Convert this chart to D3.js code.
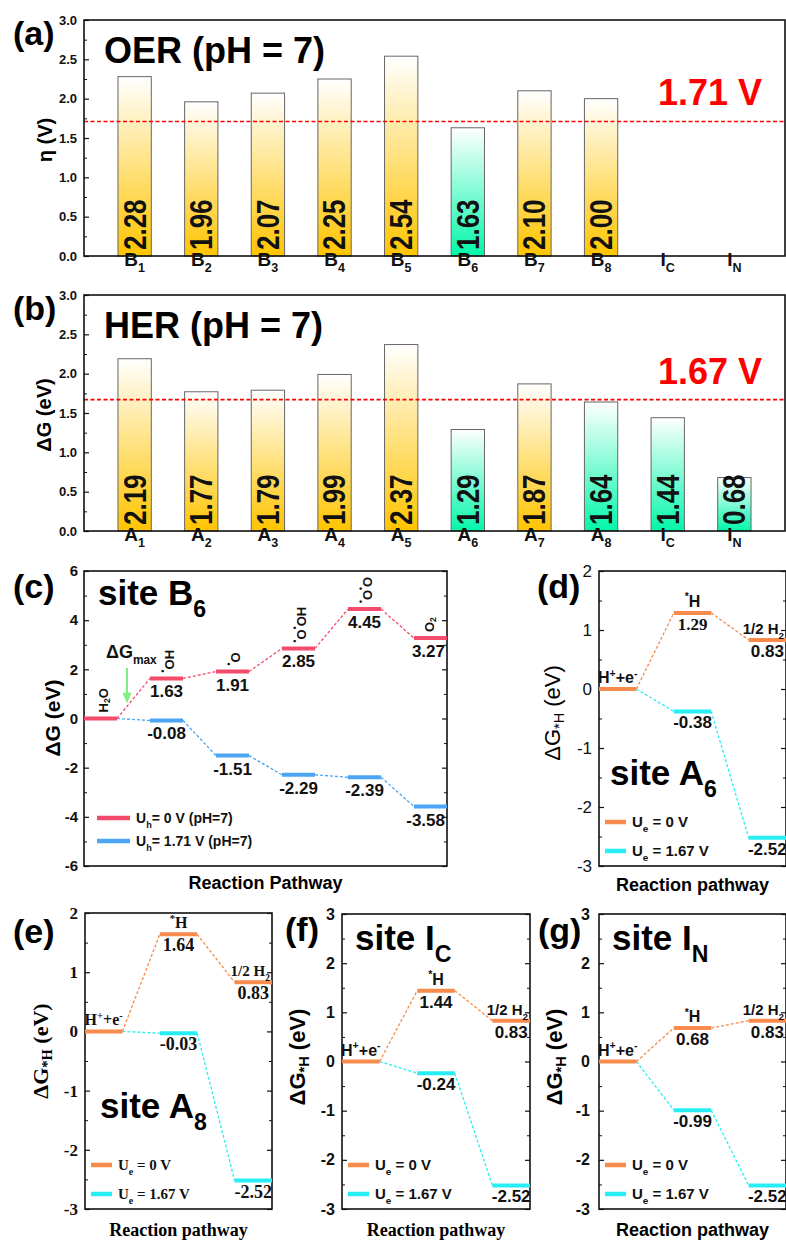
<!DOCTYPE html>
<html>
<head>
<meta charset="utf-8">
<script src="https://cdn.jsdelivr.net/npm/d3@7"></script>
<style>
  body { margin: 0; background: #fff; }
  svg { display: block; }
</style>
</head>
<body>
<div id="chart"></div>
<script>
// ---- data ----
const oerSites = ["B1", "B2", "B3", "B4", "B5", "B6", "B7", "B8", "IC", "IN"];
const oerEta = [2.28, 1.96, 2.07, 2.25, 2.54, 1.63, 2.10, 2.00, null, null];
const oerLimit = 1.71;
const herSites = ["A1", "A2", "A3", "A4", "A5", "A6", "A7", "A8", "IC", "IN"];
const herDG = [2.19, 1.77, 1.79, 1.99, 2.37, 1.29, 1.87, 1.64, 1.44, 0.68];
const herLimit = 1.67;
const barTicks = [0, 0.5, 1, 1.5, 2, 2.5, 3];

const b6Steps = [
  [["H"], ["2", "sub"], ["O"]],
  [["•", "sup"], ["OH"]],
  [["•", "sup"], ["O"]],
  [["•", "sup"], ["O"], ["•", "sup"], ["OH"]],
  [["•", "sup"], ["O"], ["•", "sup"], ["O"]],
  [["O"], ["2", "sub"]]
];
const b6G0 = [0, 1.63, 1.91, 2.85, 4.45, 3.27];
const b6GU = [0, -0.08, -1.51, -2.29, -2.39, -3.58];
const b6Ticks = [-6, -4, -2, 0, 2, 4, 6];

const hSteps = [
  [["H"], ["+", "sup"], ["+e"], ["-", "sup"]],
  [["*", "sup"], ["H"]],
  [["1/2 H"], ["2", "sub"]]
];
const a6G0 = [0, 1.29, 0.83], a6GU = [0, -0.38, -2.52];
const a8G0 = [0, 1.64, 0.83], a8GU = [0, -0.03, -2.52];
const icG0 = [0, 1.44, 0.83], icGU = [0, -0.24, -2.52];
const inG0 = [0, 0.68, 0.83], inGU = [0, -0.99, -2.52];

// ---- setup ----
const W = 786, H = 1243;
const SANS = "'Liberation Sans', Arial, sans-serif";
const SERIF = "'Liberation Serif', 'Times New Roman', serif";
const RED = "#f24b6c", BLUE = "#4ca4f2", ORANGE = "#f68b4b", CYAN = "#26eef3";

const svg = d3.select("#chart").append("svg")
  .attr("width", W).attr("height", H)
  .attr("viewBox", [0, 0, W, H])
  .style("font-family", SANS);
svg.append("rect").attr("width", W).attr("height", H).attr("fill", "#fff");

const defs = svg.append("defs");
function grad(id, c) {
  const lg = defs.append("linearGradient").attr("id", id)
    .attr("x1", 0).attr("y1", 0).attr("x2", 0).attr("y2", 1);
  lg.append("stop").attr("offset", 0).attr("stop-color", "#fff");
  lg.append("stop").attr("offset", 1).attr("stop-color", c);
}
grad("gGold", "#ffc400");
grad("gTeal", "#03f7aa");

// text with sub/superscripts
function rich(sel, parts, fs) {
  let shift = 0;
  parts.forEach(([s, k]) => {
    const target = k === "sub" ? fs * 0.33 : k === "sup" ? -fs * 0.4 : 0;
    sel.append("tspan")
      .attr("dy", target - shift)
      .attr("font-size", k ? fs * 0.66 : fs)
      .text(s);
    shift = target;
  });
  return sel;
}

function siteParts(s) { return [[s[0]], [s.slice(1), "sub"]]; }

function axesFrame(g, o, y, major, minor, fmt) {
  const left = g.append("g").attr("transform", `translate(${o.l},0)`)
    .call(d3.axisLeft(y).tickValues(major).tickFormat(fmt).tickSize(-5).tickPadding(o.tickPad || 7));
  left.select(".domain").remove();
  left.selectAll("text")
    .attr("font-family", o.tickFont || SANS)
    .attr("font-size", o.tickFs || 13)
    .attr("font-weight", o.tickWeight || "bold")
    .attr("fill", "#111");
  left.selectAll("line").attr("stroke", "#111").attr("stroke-width", 1.2);

  g.append("g").attr("transform", `translate(${o.l},0)`)
    .call(d3.axisLeft(y).tickValues(minor).tickFormat("").tickSize(-3))
    .call(s => s.select(".domain").remove())
    .selectAll("line").attr("stroke", "#111");

  if (o.mirror) {
    g.append("g").attr("transform", `translate(${o.r},0)`)
      .call(d3.axisRight(y).tickValues(major).tickFormat("").tickSize(-5))
      .call(s => s.select(".domain").remove())
      .selectAll("line").attr("stroke", "#111").attr("stroke-width", 1.2);
    g.append("g").attr("transform", `translate(${o.r},0)`)
      .call(d3.axisRight(y).tickValues(minor).tickFormat("").tickSize(-3))
      .call(s => s.select(".domain").remove())
      .selectAll("line").attr("stroke", "#111");
  }

  g.append("rect")
    .attr("x", o.l).attr("y", o.t)
    .attr("width", o.r - o.l).attr("height", o.b - o.t)
    .attr("fill", "none").attr("stroke", "#111").attr("stroke-width", 1.6);
}

function yTitle(g, x, y, parts, fs, font, weight) {
  const t = g.append("text")
    .attr("transform", `translate(${x},${y}) rotate(-90)`)
    .attr("text-anchor", "middle")
    .attr("dominant-baseline", "central")
    .attr("font-family", font || SANS)
    .attr("font-weight", weight || "bold");
  rich(t, parts, fs);
}

function panelLabel(x, y, s) {
  svg.append("text").attr("x", x).attr("y", y)
    .attr("font-size", 34).attr("font-weight", "bold").text(s);
}

// ---- bar panels (a), (b) ----
function barPanel(o) {
  const g = svg.append("g");
  const x = d3.scaleBand().domain(o.sites).range([o.l, o.r]).paddingInner(0.5).paddingOuter(0.51);
  const y = d3.scaleLinear().domain([0, 3]).range([o.b, o.t]);
  const data = o.sites.map((s, i) => ({ s, v: o.values[i] })).filter(d => d.v != null);

  g.append("g").selectAll("rect").data(data).join("rect")
    .attr("x", d => x(d.s)).attr("width", x.bandwidth())
    .attr("y", d => y(d.v)).attr("height", d => y(0) - y(d.v))
    .attr("fill", d => d.v < o.limit ? "url(#gTeal)" : "url(#gGold)")
    .attr("stroke", "#666").attr("stroke-width", 1);

  g.append("g").selectAll("text").data(data).join("text")
    .attr("transform", d => `translate(${x(d.s) + x.bandwidth() / 2},${y(0) - 6}) rotate(-90) scale(1,1.2)`)
    .attr("dominant-baseline", "central")
    .attr("font-size", 26).attr("font-weight", "bold").attr("fill", "#111")
    .text(d => d.v.toFixed(2));

  g.append("line")
    .attr("x1", o.l).attr("x2", o.r)
    .attr("y1", y(o.limit)).attr("y2", y(o.limit))
    .attr("stroke", "#f00").attr("stroke-width", 1.6).attr("stroke-dasharray", "4,2.5");

  axesFrame(g, o, y, barTicks, d3.range(0.25, 3, 0.5), d => d.toFixed(1));

  const xa = g.append("g").attr("transform", `translate(0,${o.b})`)
    .call(d3.axisBottom(x).tickSize(0).tickPadding(10));
  xa.select(".domain").remove();
  xa.selectAll("text").each(function (d) {
    const t = d3.select(this).text("").attr("font-size", 19).attr("font-weight", "bold").attr("fill", "#111");
    rich(t, siteParts(d), 19);
  });

  yTitle(g, o.titleX, (o.t + o.b) / 2 + 2, o.yTitle, o.yTitleFs);

  g.append("text").attr("x", o.l + 20).attr("y", o.t + 43)
    .attr("font-size", 36).attr("font-weight", "bold").text(o.title);
  g.append("text").attr("x", 762).attr("y", y(o.limit) - 16)
    .attr("text-anchor", "end").attr("fill", "#f00")
    .attr("font-size", 36).attr("font-weight", "bold").text(o.limit.toFixed(2) + " V");
}

barPanel({
  l: 84, t: 20, r: 785, b: 256, sites: oerSites, values: oerEta, limit: oerLimit,
  title: "OER (pH = 7)", yTitle: [["η (V)"]], yTitleFs: 20, titleX: 45
});
barPanel({
  l: 84, t: 295, r: 785, b: 531, sites: herSites, values: herDG, limit: herLimit,
  title: "HER (pH = 7)", yTitle: [["ΔG (eV)"]], yTitleFs: 20, titleX: 44
});
panelLabel(13, 45, "(a)");
panelLabel(13, 320, "(b)");

// ---- energy profile helpers ----
function series(g, x, y, vals, color, from) {
  const bw = x.bandwidth();
  g.append("g").selectAll("line").data(d3.range(vals.length - 1)).join("line")
    .attr("x1", i => x(i) + bw).attr("y1", i => y(vals[i]))
    .attr("x2", i => x(i + 1)).attr("y2", i => y(vals[i + 1]))
    .attr("stroke", color).attr("stroke-width", 1.3).attr("stroke-dasharray", "3,2");
  g.append("g").selectAll("line").data(d3.range(from, vals.length)).join("line")
    .attr("x1", i => x(i)).attr("x2", i => x(i) + bw)
    .attr("y1", i => y(vals[i])).attr("y2", i => y(vals[i]))
    .attr("stroke", color).attr("stroke-width", 4);
}

function valueLabels(g, x, y, vals, o, fontFor) {
  const bw = x.bandwidth();
  const n = vals.length;
  g.append("g").selectAll("text").data(d3.range(1, n)).join("text")
    .attr("x", i => (o.endLast && i === n - 1) ? o.r - 2 : x(i) + bw / 2)
    .attr("y", i => y(vals[i]) + o.valDy)
    .attr("text-anchor", i => (o.endLast && i === n - 1) ? "end" : "middle")
    .attr("font-family", i => fontFor(i))
    .attr("font-size", o.valFs).attr("font-weight", "bold").attr("fill", "#111")
    .text(i => vals[i].toFixed(2));
}

function legend(g, items, x0, fs, font) {
  items.forEach(it => {
    g.append("line").attr("x1", x0).attr("x2", x0 + it.len)
      .attr("y1", it.y).attr("y2", it.y)
      .attr("stroke", it.color).attr("stroke-width", 4.5);
    const t = g.append("text").attr("x", x0 + it.len + 6).attr("y", it.y + 5)
      .attr("font-family", font || SANS).attr("font-size", fs).attr("font-weight", "bold").attr("fill", "#111");
    rich(t, it.parts, fs);
  });
}

// ---- panel (c) ----
(function () {
  const o = { l: 84, t: 571, r: 447, b: 866, mirror: true, tickFs: 15, tickPad: 6, valFs: 17, valDy: 19, endLast: true };
  const g = svg.append("g");
  const x = d3.scaleBand().domain(d3.range(b6G0.length)).range([o.l, o.r]).paddingInner(0.5).paddingOuter(0);
  const y = d3.scaleLinear().domain([-6, 6]).range([o.b, o.t]);
  const bw = x.bandwidth();

  axesFrame(g, o, y, b6Ticks, [-5, -3, -1, 1, 3, 5], d => String(d));
  series(g, x, y, b6GU, BLUE, 1);
  series(g, x, y, b6G0, RED, 0);
  valueLabels(g, x, y, b6G0, o, () => SANS);
  valueLabels(g, x, y, b6GU, o, () => SANS);

  b6Steps.forEach((p, i) => {
    const t = g.append("text")
      .attr("transform", `translate(${x(i) + bw / 2 + (i === 5 ? -2 : 2)},${y(b6G0[i]) - 6}) rotate(-90)`)
      .attr("dominant-baseline", "central")
      .attr("font-weight", "bold").attr("fill", "#111");
    rich(t, p, 13);
  });

  // ΔGmax annotation
  const ax = x(0) + bw + 10;
  g.append("line").attr("x1", ax).attr("x2", ax).attr("y1", y(2.05)).attr("y2", y(1.0))
    .attr("stroke", "#7fef7f").attr("stroke-width", 2);
  g.append("path")
    .attr("d", `M${ax - 4.5},${y(1.05)} L${ax + 4.5},${y(1.05)} L${ax},${y(0.62)} Z`)
    .attr("fill", "#7fef7f");
  rich(g.append("text").attr("x", ax - 21).attr("y", y(2.45))
    .attr("font-weight", "bold").attr("fill", "#111"), [["ΔG"], ["max", "sub"]], 18);

  rich(g.append("text").attr("x", 98).attr("y", 605).attr("font-weight", "bold"),
    [["site B"], ["6", "sub"]], 35);

  legend(g, [
    { y: 818, color: RED, len: 33, parts: [["U"], ["h", "sub"], ["= 0 V (pH=7)"]] },
    { y: 841, color: BLUE, len: 33, parts: [["U"], ["h", "sub"], ["= 1.71 V (pH=7)"]] }
  ], 97, 14);

  yTitle(g, 52, 718, [["ΔG (eV)"]], 21);
  g.append("text").attr("x", (o.l + o.r) / 2).attr("y", o.b + 23)
    .attr("text-anchor", "middle").attr("font-size", 18).attr("font-weight", "bold")
    .text("Reaction Pathway");
  panelLabel(13, 598, "(c)");
})();

// ---- HER panels (d)-(g) ----
function herPanel(o) {
  const g = svg.append("g");
  const x = d3.scaleBand().domain(d3.range(hSteps.length)).range([o.l, o.r]).paddingInner(0.5).paddingOuter(0);
  const y = d3.scaleLinear().domain(o.yDomain).range([o.b, o.t]);
  const bw = x.bandwidth();
  const yt = d3.range(o.yDomain[0], o.yDomain[1] + 1);
  const ym = d3.range(o.yDomain[0] + 0.5, o.yDomain[1], 1);

  axesFrame(g, o, y, yt, ym, d => String(d));
  series(g, x, y, o.gU, CYAN, 1);
  series(g, x, y, o.g0, ORANGE, 0);
  valueLabels(g, x, y, o.g0, o, i => (i === 1 && o.serifFirst) ? SERIF : o.labFont);
  valueLabels(g, x, y, o.gU, o, () => o.labFont);

  const last = hSteps.length - 1;
  hSteps.forEach((p, i) => {
    const t = g.append("text")
      .attr("x", i === last ? o.r - 2 : x(i) + bw / 2).attr("y", y(o.g0[i]) - 6)
      .attr("text-anchor", i === last ? "end" : "middle")
      .attr("font-family", o.labFont)
      .attr("font-weight", "bold").attr("fill", "#111");
    rich(t, p, i === last ? 15 : 16);
  });

  rich(g.append("text").attr("x", o.siteX).attr("y", o.siteY).attr("font-weight", "bold"),
    [["site " + o.site[0]], [o.site.slice(1), "sub"]], 35);

  legend(g, [
    { y: o.b - 44, color: ORANGE, len: 21, parts: [["U"], ["e", "sub"], [" = 0 V"]] },
    { y: o.b - 15, color: CYAN, len: 21, parts: [["U"], ["e", "sub"], [" = 1.67 V"]] }
  ], o.l + 6, 15, o.labFont);

  yTitle(g, o.titleX, o.titleY, [["ΔG"], ["*H", "sub"], [" (eV)"]], 22, o.tickFont, o.titleWeight);
  g.append("text").attr("x", (o.l + o.r) / 2).attr("y", o.b + o.xtDy)
    .attr("text-anchor", "middle").attr("font-family", o.xtFont)
    .attr("font-size", 18).attr("font-weight", "bold")
    .text("Reaction pathway");
}

herPanel({
  l: 599, t: 571, r: 786, b: 866, yDomain: [-3, 2], g0: a6G0, gU: a6GU, site: "A6",
  mirror: true, tickFs: 17, tickWeight: "normal", tickFont: SANS, tickPad: 7, titleWeight: "normal",
  labFont: SANS, serifFirst: true, valFs: 17, valDy: 17,
  siteX: 610, siteY: 785, titleX: 552, titleY: 713, xtFont: SANS, xtDy: 25
});
herPanel({
  l: 85, t: 913, r: 272, b: 1209, yDomain: [-3, 2], g0: a8G0, gU: a8GU, site: "A8",
  mirror: true, tickFs: 17, tickWeight: "bold", tickFont: SERIF, tickPad: 7, titleWeight: "bold",
  labFont: SERIF, valFs: 18, valDy: 17,
  siteX: 100, siteY: 1118, titleX: 40, titleY: 1051, xtFont: SERIF, xtDy: 27
});
herPanel({
  l: 342, t: 914, r: 530, b: 1209, yDomain: [-3, 3], g0: icG0, gU: icGU, site: "IC",
  mirror: true, tickFs: 16, tickWeight: "bold", tickFont: SANS, tickPad: 7, titleWeight: "bold",
  labFont: SANS, valFs: 17, valDy: 17,
  siteX: 355, siteY: 950, titleX: 297, titleY: 1057, xtFont: SERIF, xtDy: 27
});
herPanel({
  l: 599, t: 914, r: 786, b: 1209, yDomain: [-3, 3], g0: inG0, gU: inGU, site: "IN",
  mirror: true, tickFs: 16, tickWeight: "bold", tickFont: SANS, tickPad: 9, titleWeight: "bold",
  labFont: SANS, valFs: 17, valDy: 17,
  siteX: 612, siteY: 950, titleX: 554, titleY: 1057, xtFont: SANS, xtDy: 27
});
panelLabel(537, 598, "(d)");
panelLabel(13, 943, "(e)");
panelLabel(285, 941, "(f)");
panelLabel(538, 942, "(g)");
</script>
</body>
</html>
